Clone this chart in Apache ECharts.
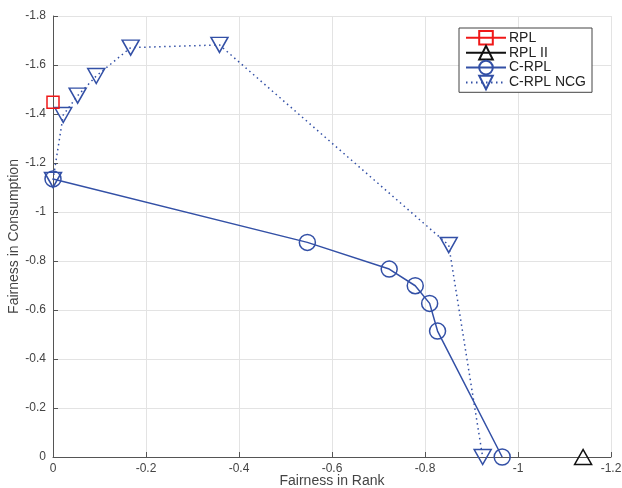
<!DOCTYPE html>
<html>
<head>
<meta charset="utf-8">
<script src="https://cdn.jsdelivr.net/npm/echarts@6/dist/echarts.min.js"></script>
<style>
  html, body { margin: 0; padding: 0; background: #fff; }
  #chart { width: 622px; height: 488px; }
</style>
</head>
<body>
<div id="chart"></div>
<script>
// Fairness trade-off: rank fairness (x) vs consumption fairness (y)
const rplX = [0];
const rplY = [-1.448];

const rpl2X = [-1.14];
const rpl2Y = [0];

const crplX = [0, -0.547, -0.723, -0.779, -0.810, -0.827, -0.966];
const crplY = [-1.135, -0.876, -0.767, -0.699, -0.627, -0.514, 0];

const ncgX = [0, -0.022, -0.053, -0.093, -0.167, -0.358, -0.851, -0.924];
const ncgY = [-1.131, -1.396, -1.475, -1.555, -1.671, -1.682, -0.865, 0];

const seriesNames = ['RPL', 'RPL II', 'C-RPL', 'C-RPL NCG'];

const BLUE = '#3350a6';
const RED = '#f01818';
const BLACK = '#111111';
const FONT = '"Liberation Sans", Arial, Helvetica, sans-serif';
const downTriangle = 'path://M0,0L10,0L5,8.8Z';

const pairs = (xs, ys) => xs.map((x, i) => [x, ys[i]]);

const chart = echarts.init(document.getElementById('chart'), null, { renderer: 'canvas' });

const axisCommon = {
  type: 'value',
  inverse: true,
  max: 0,
  interval: 0.2,
  nameLocation: 'middle',
  nameMoveOverlap: false,
  nameTextStyle: { color: '#444', fontSize: 14, fontFamily: FONT },
  axisLine: { show: true, onZero: false, lineStyle: { color: '#555', width: 1 } },
  axisTick: { show: true, inside: true, length: 5, lineStyle: { color: '#555' } },
  axisLabel: { color: '#444', fontSize: 12, fontFamily: FONT },
  splitLine: { show: true, lineStyle: { color: '#e3e3e3', width: 1 } }
};

chart.setOption({
  backgroundColor: '#fff',
  animation: false,
  grid: { left: 53, right: 11, top: 16, bottom: 31, containLabel: false, outerBoundsMode: 'none' },
  xAxis: Object.assign({}, axisCommon, {
    min: -1.2,
    name: 'Fairness in Rank',
    nameGap: 17,
    axisLabel: Object.assign({}, axisCommon.axisLabel, { margin: 6 })
  }),
  yAxis: Object.assign({}, axisCommon, {
    min: -1.8,
    name: 'Fairness in Consumption',
    nameGap: 32,
    axisLabel: Object.assign({}, axisCommon.axisLabel, { margin: 7 })
  }),
  legend: {
    data: seriesNames,
    orient: 'vertical',
    left: 459,
    top: 28,
    padding: [2, 6, 2, 6],
    itemGap: -0.7,
    itemWidth: 40,
    itemHeight: 17,
    backgroundColor: '#fff',
    borderColor: '#444',
    borderWidth: 1,
    borderRadius: 0,
    textStyle: { color: '#222', fontSize: 14, fontFamily: FONT, padding: [0, 0, 0, -2] }
  },
  series: [
    {
      name: seriesNames[0],
      type: 'line',
      data: pairs(rplX, rplY),
      symbol: 'rect',
      symbolSize: 12,
      color: RED,
      lineStyle: { color: RED, width: 1.5 },
      itemStyle: { color: 'rgba(0,0,0,0)', borderColor: RED, borderWidth: 1.5 },
      z: 5
    },
    {
      name: seriesNames[1],
      type: 'line',
      data: pairs(rpl2X, rpl2Y),
      symbol: 'triangle',
      symbolSize: [17, 15],
      color: BLACK,
      lineStyle: { color: BLACK, width: 1.5 },
      itemStyle: { color: 'rgba(0,0,0,0)', borderColor: BLACK, borderWidth: 1.5 },
      z: 5
    },
    {
      name: seriesNames[2],
      type: 'line',
      data: pairs(crplX, crplY),
      symbol: 'circle',
      symbolSize: 16,
      color: BLUE,
      lineStyle: { color: BLUE, width: 1.5 },
      itemStyle: { color: 'rgba(0,0,0,0)', borderColor: BLUE, borderWidth: 1.5 },
      z: 4
    },
    {
      name: seriesNames[3],
      type: 'line',
      data: pairs(ncgX, ncgY),
      symbol: downTriangle,
      symbolSize: [17, 15],
      color: BLUE,
      lineStyle: { color: BLUE, width: 1.5, type: [1.5, 3.5] },
      itemStyle: { color: 'rgba(0,0,0,0)', borderColor: BLUE, borderWidth: 1.5 },
      z: 3
    }
  ]
});
</script>
</body>
</html>
